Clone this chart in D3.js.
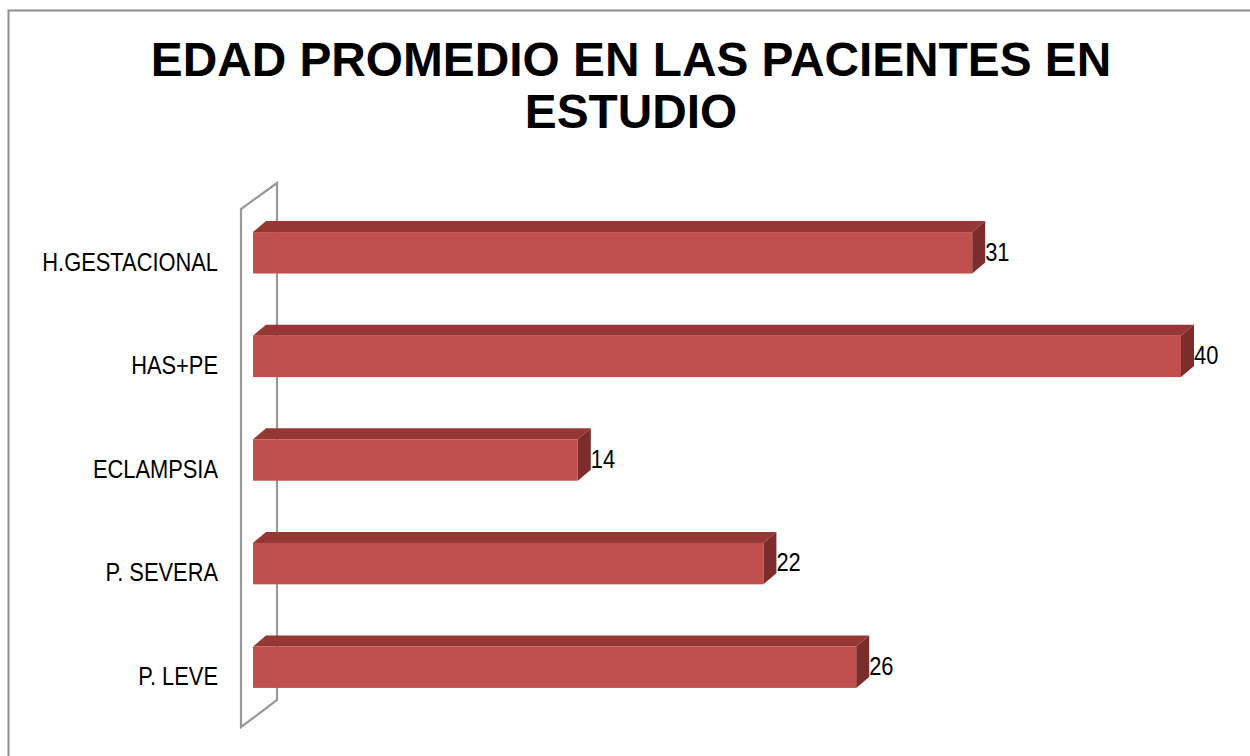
<html>
<head>
<meta charset="utf-8">
<script src="https://d3js.org/d3.v7.min.js"></script>
<style>
body { margin: 0; background: #fff; overflow: hidden; }
svg { display: block; }
text { font-family: "Liberation Sans Narrow", "Arial Narrow", "Liberation Sans", Arial, sans-serif; }
.title { font-family: "Liberation Sans", Arial, sans-serif; font-weight: bold; font-size: 47.8px; }
</style>
</head>
<body>
<svg id="chart" width="1250" height="756"></svg>
<script>
var categories = ["H.GESTACIONAL", "HAS+PE", "ECLAMPSIA", "P. SEVERA", "P. LEVE"];
var values = [31, 40, 14, 22, 26];
var titleLines = ["EDAD PROMEDIO EN LAS PACIENTES EN", "ESTUDIO"];

var data = categories.map((c, i) => ({cat: c, val: values[i]}));

var svg = d3.select("#chart");

// outer frame
svg.append("rect")
  .attr("x", 8.5).attr("y", 10.5)
  .attr("width", 1300).attr("height", 800)
  .attr("fill", "none").attr("stroke", "#8c8c8c").attr("stroke-width", 2);

svg.selectAll(".title").data(titleLines).enter().append("text")
  .attr("class", "title")
  .attr("x", 631)
  .attr("y", (d, i) => 76 + i * 52)
  .attr("text-anchor", "middle")
  .text(d => d);

var x = d3.scaleLinear().domain([0, 40]).range([253, 1181]);
var y = d3.scaleBand().domain(categories).range([201, 719]).paddingInner(0.6).paddingOuter(0.3);

var dx = 13, dy = 11;
var squeeze = 0.875;

// side wall of the 3D plot
var wx = x(0) - 12;
svg.append("path")
  .attr("d", `M${wx},${y.range()[1] + 8} L${wx},209 L${wx + 36},183 L${wx + 36},700 Z`)
  .attr("fill", "none").attr("stroke", "#999").attr("stroke-width", 2.2)
  .attr("stroke-linejoin", "miter");

var g = svg.selectAll("g.bar").data(data).enter().append("g").attr("class", "bar");

g.append("path")
  .attr("fill", "#953735")
  .attr("d", d => {
    var x0 = x(0), x1 = x(d.val), y0 = y(d.cat);
    return `M${x0},${y0} L${x0 + dx},${y0 - dy} L${x1 + dx},${y0 - dy} L${x1},${y0} Z`;
  });

g.append("path")
  .attr("fill", "#7c2d2b")
  .attr("d", d => {
    var x1 = x(d.val), y0 = y(d.cat), h = y.bandwidth();
    return `M${x1},${y0} L${x1 + dx},${y0 - dy} L${x1 + dx},${y0 + h - dy} L${x1},${y0 + h} Z`;
  });

g.append("rect")
  .attr("fill", "#c0504d")
  .attr("x", x(0))
  .attr("y", d => y(d.cat))
  .attr("width", d => x(d.val) - x(0))
  .attr("height", y.bandwidth());

g.append("text")
  .attr("transform", d => `translate(${x(d.val) + dx},${y(d.cat) + y.bandwidth() / 2 - 1}) scale(${squeeze},1)`)
  .attr("dy", "0.35em")
  .attr("font-size", 25)
  .text(d => d.val);

svg.selectAll(".cat").data(data).enter().append("text")
  .attr("class", "cat")
  .attr("transform", d => `translate(218,${y(d.cat) + y.bandwidth() / 2 + 9}) scale(${squeeze},1)`)
  .attr("dy", "0.35em")
  .attr("text-anchor", "end")
  .attr("font-size", 25)
  .text(d => d.cat);
</script>
</body>
</html>
